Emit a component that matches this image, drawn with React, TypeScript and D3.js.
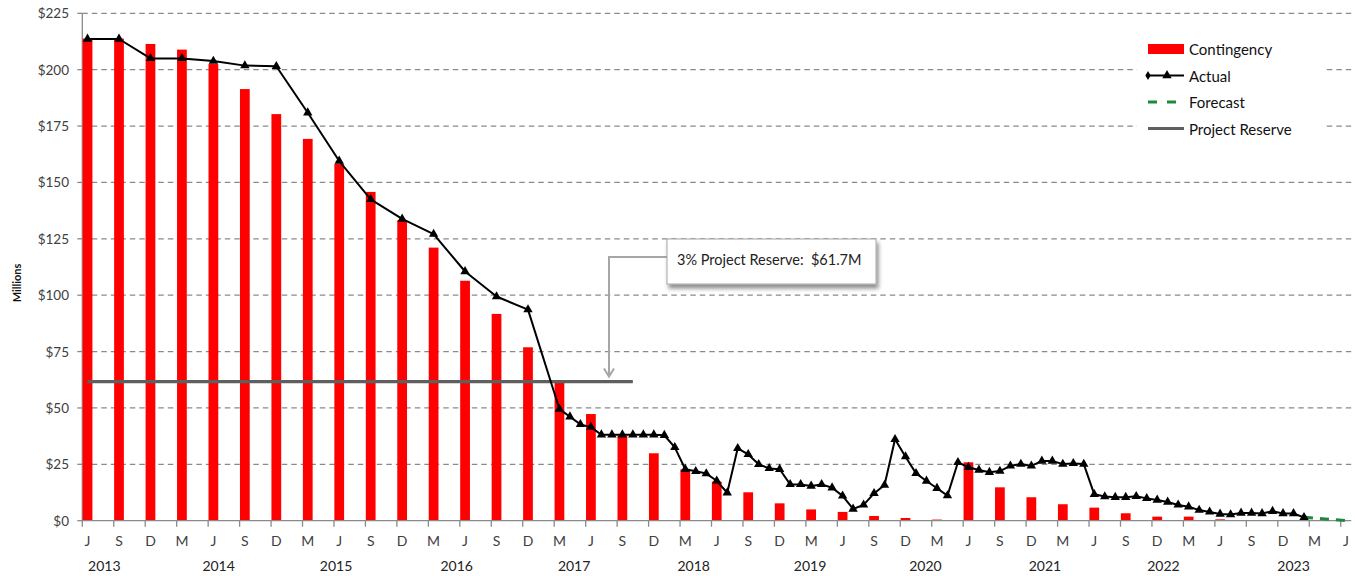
import React from "react";
import * as d3 from "d3";

const W = 1355;
const H = 576;

// Month letters of the quarterly category ticks (Jun 2013 – Jun 2023)
const monthTickLabels = [
  "J", "S", "D", "M", "J", "S", "D", "M", "J", "S", "D", "M", "J", "S", "D", "M",
  "J", "S", "D", "M", "J", "S", "D", "M", "J", "S", "D", "M", "J", "S", "D", "M",
  "J", "S", "D", "M", "J", "S", "D", "M", "J",
];
const yearLabels = ["2013", "2014", "2015", "2016", "2017", "2018", "2019", "2020", "2021", "2022", "2023"];
// month offset (from Jun 2013) on which each year label is centred
const yearLabelMonths = [1.6, 12.5, 23.7, 35.2, 46.4, 57.8, 68.9, 79.9, 91.3, 102.6, 115];

const firstMonth = "2013-06";
const lastMonth = "2023-06";

// Contingency, quarterly from Jun 2013 ($M)
const contingency = [
  213.8, 213.8, 211.4, 208.9, 202.5, 191.4, 180.3, 169.3, 158.2, 145.8, 133.2, 121.1,
  106.4, 91.7, 76.9, 61.2, 47.3, 37.6, 29.9, 22.8, 17.3, 12.6, 7.7, 5.0, 3.9, 2.1,
  1.2, 0.5, 25.9, 14.8, 10.4, 7.3, 5.8, 3.3, 1.8, 1.8, 0.6, 0, 0, 0, 0,
];

// Actual, quarterly Jun 2013 – Dec 2016
const actualQuarterlyStart = "2013-06";
const actualQuarterly = [
  213.6, 213.6, 205.0, 205.0, 203.8, 201.8, 201.5, 180.9, 159.5, 142.5, 133.8, 127.1,
  110.5, 99.4, 93.6,
];
// Actual, monthly Mar 2017 – Feb 2023
const actualMonthlyStart = "2017-03";
const actualMonthly = [
  49.5, 46.1, 42.7, 41.5, 38.1, 38.1, 38.1, 38.1, 38.1, 38.1, 37.9, 32.5,
  22.8, 21.9, 20.9, 17.7, 12.4, 32.1, 29.4, 25.0, 23.2, 22.8, 16.1, 16.1,
  15.4, 16.1, 14.6, 11.0, 5.2, 7.0, 12.1, 15.8, 36.1, 28.4, 21.0, 17.6,
  14.4, 11.1, 25.9, 23.7, 22.5, 21.5, 22.0, 24.3, 25.1, 24.3, 26.5, 26.5,
  25.1, 25.4, 25.1, 11.7, 10.7, 10.4, 10.4, 10.8, 9.9, 9.2, 8.3, 7.0,
  6.2, 4.7, 3.9, 3.0, 2.7, 3.4, 3.4, 3.2, 4.2, 3.2, 3.2, 1.5,
];
// Forecast, monthly Feb 2023 – Jun 2023
const forecastStart = "2023-02";
const forecast = [1.5, 1.1, 0.8, 0.4, 0.0];

const projectReserve = 61.7;
const reserveFrom = "2013-06";
const reserveTo = "2017-10";

const yTicks = [0, 25, 50, 75, 100, 125, 150, 175, 200, 225];
const calloutText = "3% Project Reserve:  $61.7M";
const legendLabels = ["Contingency", "Actual", "Forecast", "Project Reserve"];
const yTitle = "Millions";

const monthIndex = (s: string) => {
  const [yy, mm] = s.split("-").map(Number);
  const [y0, m0] = firstMonth.split("-").map(Number);
  return (yy - y0) * 12 + (mm - m0);
};

const FONT = "Lato, 'Open Sans', sans-serif";

export default function App() {
  const nMonths = monthIndex(lastMonth);
  const x = d3.scaleLinear().domain([-0.5, nMonths + 0.5]).range([82.3, 1351.2]);
  const y = d3.scaleLinear().domain([0, 225]).range([520.7, 13.3]);
  const mw = x(1) - x(0);
  const barW = mw * 0.93;

  const bars = contingency.map((v, i) => ({ m: i * 3, v }));
  const aq0 = monthIndex(actualQuarterlyStart);
  const am0 = monthIndex(actualMonthlyStart);
  const actual = [
    ...actualQuarterly.map((v, i) => ({ m: aq0 + i * 3, v })),
    ...actualMonthly.map((v, i) => ({ m: am0 + i, v })),
  ];
  const f0 = monthIndex(forecastStart);
  const fc = forecast.map((v, i) => ({ m: f0 + i, v }));

  const line = d3
    .line<{ m: number; v: number }>()
    .x((d) => x(d.m))
    .y((d) => y(d.v));

  const tri = d3.symbol(d3.symbolTriangle, 38)();
  const dia = d3.symbol(d3.symbolDiamond, 24)();

  const rX1 = x(monthIndex(reserveFrom));
  const rX2 = x(monthIndex(reserveTo));
  const yr = y(projectReserve);

  const tickMonths = d3.range(0, nMonths + 1, 3);

  // legend geometry
  const lgX = 1148;
  const lgRows = [49, 75.5, 102, 128.5];

  // callout geometry
  const cb = { x: 667, y: 239, w: 209, h: 45 };
  const arrowX = 609;
  const arrowY = cb.y + 18;
  const arrowTip = yr - 5;

  return (
    <svg
      width={W}
      height={H}
      viewBox={`0 0 ${W} ${H}`}
      style={{ position: "absolute", left: 0, top: 0, background: "#fff" }}
      fontFamily={FONT}
    >
      <defs>
        <filter id="shadow" x="-10%" y="-20%" width="130%" height="160%">
          <feDropShadow dx="2" dy="4" stdDeviation="2" floodColor="#000" floodOpacity="0.45" />
        </filter>
      </defs>
      <rect width={W} height={H} fill="#fff" />

      {/* gridlines */}
      {yTicks
        .filter((t) => t > 0)
        .map((t) => (
          <line
            key={t}
            x1={x.range()[0]}
            x2={x.range()[1]}
            y1={y(t)}
            y2={y(t)}
            stroke="#8a8a8a"
            strokeWidth={1.3}
            strokeDasharray="5.5,4"
          />
        ))}

      {/* legend background (covers gridlines) */}
      <rect x={1137} y={36} width={188} height={106} fill="#fff" />

      {/* y axis */}
      <line x1={x.range()[0]} x2={x.range()[0]} y1={y(225)} y2={y(0)} stroke="#8a8a8a" strokeWidth={1.3} />
      {yTicks.map((t) => (
        <g key={t}>
          <line x1={x.range()[0] - 5} x2={x.range()[0]} y1={y(t)} y2={y(t)} stroke="#8a8a8a" strokeWidth={1.3} />
          <text
            x={69}
            y={y(t)}
            textAnchor="end"
            dominantBaseline="central"
            fontSize={13.5}
            fill="#404040"
          >
            {`$${t}`}
          </text>
        </g>
      ))}
      <text
        transform={`translate(16,283) rotate(-90)`}
        textAnchor="middle"
        dominantBaseline="central"
        fontSize={11}
        fontWeight="bold"
        fill="#111"
      >
        {yTitle}
      </text>

      {/* bars */}
      {bars
        .filter((b) => b.v > 0)
        .map((b) => (
          <rect
            key={b.m}
            x={x(b.m) - barW / 2}
            y={y(b.v)}
            width={barW}
            height={y(0) - y(b.v)}
            fill="#ff0000"
          />
        ))}

      {/* x axis */}
      <line x1={x.range()[0]} x2={x.range()[1]} y1={y(0)} y2={y(0)} stroke="#8a8a8a" strokeWidth={1.3} />
      {tickMonths.map((m, i) => (
        <g key={m}>
          <line x1={x(m - 0.5)} x2={x(m - 0.5)} y1={y(0)} y2={y(0) + 6} stroke="#8a8a8a" strokeWidth={1.3} />
          <text x={x(m)} y={540} textAnchor="middle" dominantBaseline="central" fontSize={14} fill="#404040">
            {monthTickLabels[i]}
          </text>
        </g>
      ))}
      {yearLabels.map((t, i) => (
        <text
          key={t}
          x={x(yearLabelMonths[i])}
          y={565.5}
          textAnchor="middle"
          dominantBaseline="central"
          fontSize={14}
          fill="#222"
        >
          {t}
        </text>
      ))}

      {/* project reserve */}
      <line x1={rX1} x2={rX2} y1={yr} y2={yr} stroke="#5f5f5f" strokeWidth={3.2} />

      {/* forecast */}
      <path d={line(fc) || ""} fill="none" stroke="#1b8a3c" strokeWidth={3} strokeDasharray="9,7" />

      {/* actual */}
      <path d={line(actual) || ""} fill="none" stroke="#000" strokeWidth={2} strokeLinejoin="round" />
      {actual.map((d) => (
        <path key={d.m} d={tri || ""} transform={`translate(${x(d.m)},${y(d.v)})`} fill="#000" />
      ))}

      {/* callout */}
      <polyline
        points={`${cb.x},${arrowY} ${arrowX},${arrowY} ${arrowX},${arrowTip}`}
        fill="none"
        stroke="#a6a6a6"
        strokeWidth={2}
      />
      <polyline
        points={`${arrowX - 5},${arrowTip - 8} ${arrowX},${arrowTip} ${arrowX + 5},${arrowTip - 8}`}
        fill="none"
        stroke="#a6a6a6"
        strokeWidth={2}
      />
      <rect
        x={cb.x}
        y={cb.y}
        width={cb.w}
        height={cb.h}
        fill="#fff"
        stroke="#a6a6a6"
        strokeWidth={1}
        filter="url(#shadow)"
      />
      <text
        x={cb.x + 10}
        y={cb.y + cb.h / 2 - 2}
        dominantBaseline="central"
        fontSize={14.5}
        fill="#222"
        style={{ whiteSpace: "pre" }}
      >
        {calloutText}
      </text>

      {/* legend */}
      <rect x={lgX} y={lgRows[0] - 5} width={36} height={10} fill="#ff0000" />
      <line x1={lgX} x2={lgX + 36} y1={lgRows[1]} y2={lgRows[1]} stroke="#000" strokeWidth={2} />
      <path d={dia || ""} transform={`translate(${lgX},${lgRows[1]})`} fill="#000" />
      <path d={tri || ""} transform={`translate(${lgX + 19},${lgRows[1]})`} fill="#000" />
      <line
        x1={lgX}
        x2={lgX + 34}
        y1={lgRows[2]}
        y2={lgRows[2]}
        stroke="#1b8a3c"
        strokeWidth={3}
        strokeDasharray="9,10"
      />
      <line x1={lgX} x2={lgX + 36} y1={lgRows[3]} y2={lgRows[3]} stroke="#5f5f5f" strokeWidth={3.2} />
      {legendLabels.map((t, i) => (
        <text key={t} x={1189} y={lgRows[i]} dominantBaseline="central" fontSize={15} fill="#111">
          {t}
        </text>
      ))}
    </svg>
  );
}
